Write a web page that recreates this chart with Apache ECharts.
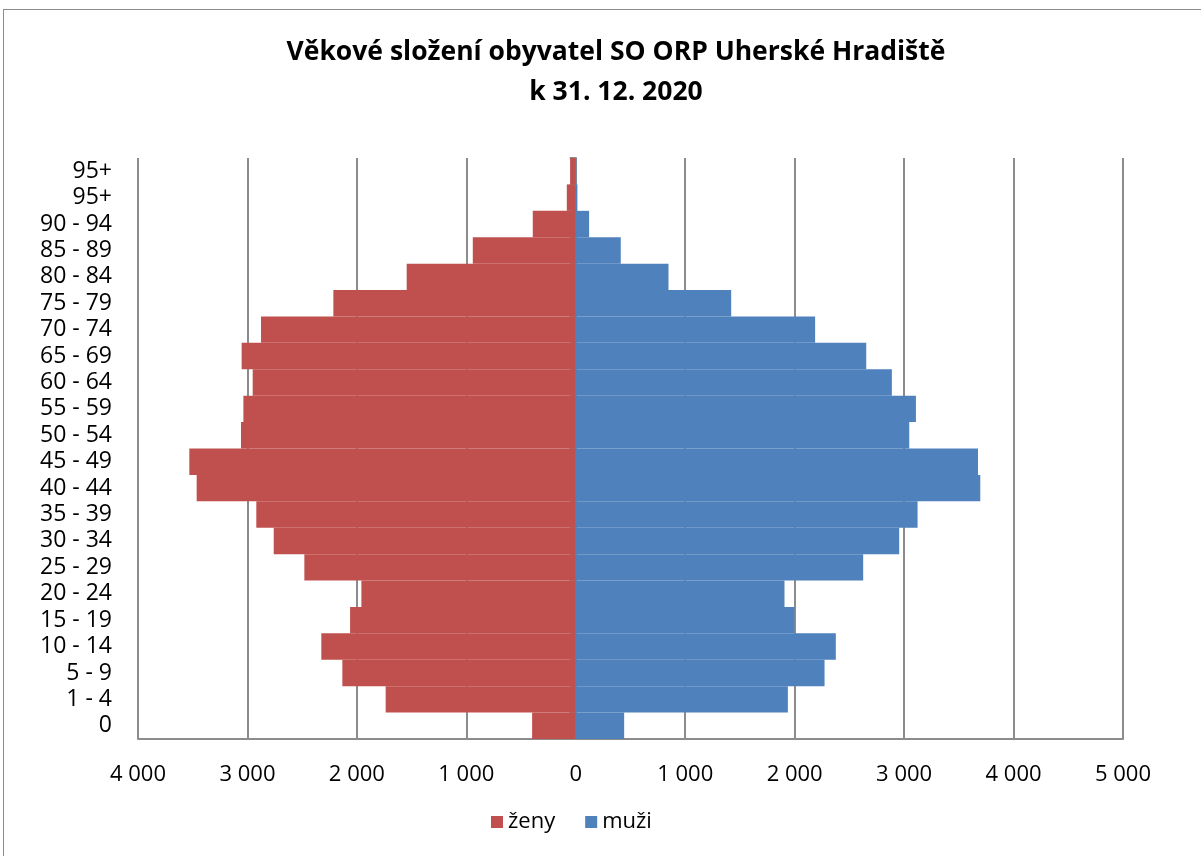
<!DOCTYPE html>
<html>
<head>
<meta charset="utf-8">
<script src="https://cdn.jsdelivr.net/npm/echarts@6/dist/echarts.min.js"></script>
<style>
  html, body { margin: 0; padding: 0; background: #fff; overflow: hidden; }
  .frame {
    position: absolute; left: 3px; top: 9px; width: 1220px; height: 870px;
    border: 1px solid #8c8c8c; box-sizing: border-box;
  }
  #chart { position: absolute; left: 0; top: 0; width: 1201px; height: 856px; }
</style>
</head>
<body>
<div class="frame"></div>
<div id="chart"></div>
<script>
// věkové skupiny odspodu nahoru
var ageGroups = ['0', '1 - 4', '5 - 9', '10 - 14', '15 - 19', '20 - 24', '25 - 29', '30 - 34',
  '35 - 39', '40 - 44', '45 - 49', '50 - 54', '55 - 59', '60 - 64', '65 - 69', '70 - 74',
  '75 - 79', '80 - 84', '85 - 89', '90 - 94', '95+', '95+'];
var zeny = [399, 1737, 2133, 2325, 2062, 1959, 2480, 2760, 2919, 3464, 3531, 3059, 3037, 2952,
  3053, 2876, 2215, 1545, 941, 393, 82, 52];
var muzi = [442, 1938, 2273, 2376, 1998, 1907, 2626, 2955, 3123, 3696, 3675, 3047, 3108, 2888,
  2654, 2187, 1420, 847, 411, 122, 15, 5];
var xTicks = [-4000, 5000, 1000]; // min, max, krok

var font = '"Open Sans", sans-serif';

function fmt(v) {
  // 4000 -> "4 000"
  return String(Math.abs(v)).replace(/\B(?=(\d{3})+(?!\d))/g, ' ');
}

var myChart = echarts.init(document.getElementById('chart'));
myChart.setOption({
  animation: false,
  title: {
    text: 'Věkové složení obyvatel SO ORP Uherské Hradiště\nk 31. 12. 2020',
    left: 611,
    textAlign: 'center',
    top: 27,
    textStyle: {
      fontFamily: font,
      fontSize: 26.5,
      fontWeight: 'bold',
      color: '#000',
      lineHeight: 40
    }
  },
  legend: {
    data: ['ženy', 'muži'],
    left: 486,
    top: 806,
    icon: 'rect',
    itemWidth: 12,
    itemHeight: 12,
    itemGap: 30,
    textStyle: { fontFamily: font, fontSize: 22, color: '#000' }
  },
  grid: { left: 138, right: 78, top: 158, bottom: 117 },
  xAxis: {
    type: 'value',
    min: xTicks[0],
    max: xTicks[1],
    interval: xTicks[2],
    axisLine: { show: true, lineStyle: { color: '#8c8c8c', width: 2 } },
    axisTick: { show: false },
    axisLabel: {
      margin: 25,
      fontFamily: font,
      fontSize: 22,
      color: '#000',
      formatter: fmt
    },
    splitLine: { show: true, lineStyle: { color: '#8c8c8c', width: 2 } }
  },
  yAxis: [
    {
      // popisky vlevo
      type: 'category',
      data: ageGroups,
      axisLine: { show: false, onZero: false },
      axisTick: { show: false },
      axisLabel: {
        margin: 26,
        fontFamily: font,
        fontSize: 23,
        color: '#000',
        interval: 0
      }
    },
    {
      // osa v nule
      type: 'category',
      data: ageGroups,
      position: 'left',
      axisLine: { show: true, onZero: true, lineStyle: { color: '#8c8c8c', width: 2 } },
      axisTick: { show: true, length: 6, interval: 0, lineStyle: { color: '#8c8c8c', width: 2 } },
      axisLabel: { show: false }
    }
  ],
  series: [
    {
      name: 'ženy',
      type: 'bar',
      stack: 'all',
      barCategoryGap: 0,
      itemStyle: { color: '#C0504D' },
      data: zeny.map(function (v) { return -v; })
    },
    {
      name: 'muži',
      type: 'bar',
      stack: 'all',
      barCategoryGap: 0,
      itemStyle: { color: '#4F81BD' },
      data: muzi
    }
  ]
});
window.addEventListener('resize', function () { myChart.resize(); });
</script>
</body>
</html>
